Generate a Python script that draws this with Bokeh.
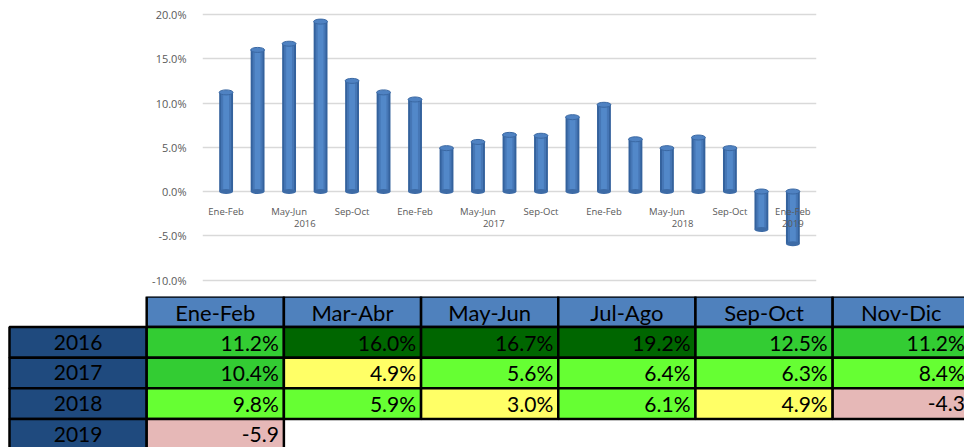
import numpy as np
from bokeh.plotting import figure
from bokeh.models import Range1d, FixedTicker, LinearAxis, PrintfTickFormatter, ColumnDataSource
from bokeh.core.properties import value
from bokeh.embed import file_html
from bokeh.resources import INLINE

# ---------------- data ----------------
years = ["2016", "2017", "2018", "2019"]
periods = ["Ene-Feb", "Mar-Abr", "May-Jun", "Jul-Ago", "Sep-Oct", "Nov-Dic"]
# chart bars, chronological (19 two-month periods)
bar_values = [11.2, 16.0, 16.7, 19.2, 12.5, 11.2,
              10.4, 4.9, 5.6, 6.4, 6.3, 8.4,
              9.8, 5.9, 4.9, 6.1, 4.9, -4.3,
              -5.9]
bar_years = ["2016"] * 6 + ["2017"] * 6 + ["2018"] * 6 + ["2019"]
y_ticks = [-10, -5, 0, 5, 10, 15, 20]

# table texts
row_2016 = ["11.2%", "16.0%", "16.7%", "19.2%", "12.5%", "11.2%"]
row_2017 = ["10.4%", "4.9%", "5.6%", "6.4%", "6.3%", "8.4%"]
row_2018 = ["9.8%", "5.9%", "3.0%", "6.1%", "4.9%", "-4.3"]
row_2019 = ["-5.9"]
table_rows = [row_2016, row_2017, row_2018, row_2019]

# table cell styles
DG, MG, LG, YE, PK = "#006600", "#33cc33", "#66ff33", "#ffff66", "#e6b8b7"
fill_2016 = [MG, DG, DG, DG, MG, MG]
fill_2017 = [MG, YE, LG, LG, LG, LG]
fill_2018 = [LG, LG, YE, LG, YE, PK]
fill_2019 = [PK]
table_fills = [fill_2016, fill_2017, fill_2018, fill_2019]

HEADER_BLUE = "#4f81bd"
LABEL_BLUE = "#1f4a7e"
FONT = "Lato"
AX_FONT = "Open Sans"
GRAY = "#595959"

# ---------------- bar chart ----------------
W = 964
p = figure(width=W, height=296, output_backend="svg", toolbar_location=None,
           x_range=Range1d(-0.75, 18.75), y_range=Range1d(-10.96, 20.68),
           min_border_left=202, min_border_right=148, min_border_top=8, min_border_bottom=8,
           x_axis_location=None)
p.outline_line_color = None
p.background_fill_color = "white"
p.border_fill_color = "white"

p.yaxis.ticker = FixedTicker(ticks=y_ticks)
p.yaxis.formatter = PrintfTickFormatter(format="%.1f%%")
p.yaxis.axis_line_color = None
p.yaxis.major_tick_line_color = None
p.yaxis.minor_tick_line_color = None
p.yaxis.major_label_text_color = GRAY
p.yaxis.major_label_text_font = AX_FONT
p.yaxis.major_label_text_font_size = "11px"
p.yaxis.major_label_standoff = 10
p.ygrid.ticker = FixedTicker(ticks=y_ticks)
p.ygrid.grid_line_color = "#d9d9d9"
p.ygrid.grid_line_width = 1.5
p.xgrid.grid_line_color = None

idx = np.arange(len(bar_values))
vals = np.array(bar_values)
src = ColumnDataSource(dict(x=idx, v=vals, top=np.maximum(vals, 0), bot=np.minimum(vals, 0)))

BW = 0.44
p.vbar(x="x", top="top", bottom="bot", width=BW, source=src, fill_color="#34629d", line_color=None)
p.vbar(x="x", top="top", bottom="bot", width=BW * 0.72, source=src, fill_color="#4677b6", line_color=None)
p.vbar(x="x", top="top", bottom="bot", width=BW * 0.42, source=src, fill_color="#5288c9", line_color=None)
p.ellipse(x="x", y="bot", width=BW, height=5, width_units="data", height_units="screen",
          source=src, fill_color="#3d6ba6", line_color=None)
p.ellipse(x="x", y="top", width=BW, height=5, width_units="data", height_units="screen",
          source=src, fill_color="#4f82c2", line_color="#3a68a3", line_width=1)

# period labels (every other bar) and year labels, on the zero line
period_ticks = list(range(0, len(bar_values), 2))
chron_periods = [periods[i % 6] for i in range(len(bar_values))]
ax1 = LinearAxis(fixed_location=0, ticker=FixedTicker(ticks=period_ticks),
                 major_label_overrides={t: chron_periods[t] for t in period_ticks})
year_centers = [float(np.mean([i for i, y in enumerate(bar_years) if y == yr])) for yr in years]
ax2 = LinearAxis(fixed_location=0, ticker=FixedTicker(ticks=year_centers),
                 major_label_overrides={c: yr for c, yr in zip(year_centers, years)})
for ax, so in ((ax1, 7), (ax2, 22)):
    ax.axis_line_color = None
    ax.major_tick_line_color = None
    ax.minor_tick_line_color = None
    ax.major_label_text_color = GRAY
    ax.major_label_text_font = AX_FONT
    ax.major_label_text_font_size = "9.5px"
    ax.major_label_standoff = so
    p.add_layout(ax, "below")

# ---------------- table ----------------
t = figure(width=W, height=151, output_backend="svg", toolbar_location=None,
           x_range=Range1d(-0.0656, 6.961), y_range=Range1d(4.935, 0),
           min_border=0, x_axis_location=None, y_axis_location=None)
t.outline_line_color = None
t.xgrid.grid_line_color = None
t.ygrid.grid_line_color = None

# header cells
hx = [c + 1.5 for c in range(len(periods))]
t.rect(x=hx, y=[0.5] * len(hx), width=1, height=1, fill_color=HEADER_BLUE,
       line_color="black", line_width=2.5)
t.text(x=hx, y=[0.5] * len(hx), text=periods, text_align="center", text_baseline="middle",
       text_font=value(FONT), text_font_size="22px", text_color="black", y_offset=1)

# row labels
ly = [r + 1.5 for r in range(len(years))]
t.rect(x=[0.5] * len(years), y=ly, width=1, height=1, fill_color=LABEL_BLUE,
       line_color="black", line_width=2.5)
t.text(x=[0.5] * len(years), y=ly, text=years, text_align="center", text_baseline="middle",
       text_font=value(FONT), text_font_size="21px", text_color="black")

# data cells
cx, cy, ctext, cfill = [], [], [], []
for r, (row, fills) in enumerate(zip(table_rows, table_fills)):
    for c, (txt, f) in enumerate(zip(row, fills)):
        cx.append(c + 1.5)
        cy.append(r + 1.5)
        ctext.append(txt)
        cfill.append(f)
t.rect(x=cx, y=cy, width=1, height=1, fill_color=cfill, line_color="black", line_width=2.5)
t.text(x=[x + 0.5 for x in cx], y=cy, text=ctext, text_align="right", text_baseline="middle",
       text_font=value(FONT), text_font_size="21px", text_color="black", x_offset=-5)

open("out.html", "w").write(file_html([p, t], INLINE))
